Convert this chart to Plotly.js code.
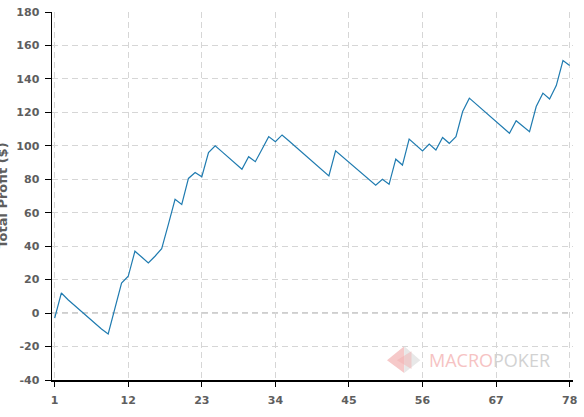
<!DOCTYPE html>
<html>
<head>
<meta charset="utf-8">
<script src="https://cdn.plot.ly/plotly-3.0.1.min.js"></script>
<style>html,body{margin:0;padding:0;background:#fff;}#chart{width:584px;height:417px;}</style>
</head>
<body>
<div id="chart"></div>
<script>
// Session numbers 1..78
const sessions = Array.from({length: 78}, (_, i) => i + 1);
// Cumulative total profit ($)
const totalProfit = [
  -3, 12, 8, 4.5, 0.5, -2.5, -6, -9.5, -12.5, 3,
  18, 22, 37, 33.5, 30, 34, 38.5, 53, 68, 65,
  80.5, 84, 81.5, 96, 100, 96.5, 93, 89.5, 86, 93.5,
  90.5, 98, 105.5, 102.5, 106.5, 103, 99.5, 96, 92.5, 89,
  85.5, 82, 97, 93.5, 90, 86.5, 83.5, 80, 76.5, 80,
  77, 92, 88.5, 104, 100.5, 97, 101, 97.5, 105, 101.5,
  105.5, 120.5, 128.5, 125, 121.5, 118, 114.5, 111, 107.5, 115,
  112, 108.5, 123.5, 131.5, 128, 136, 151, 148
];
const xTickVals = [1, 12, 23, 34, 45, 56, 67, 78];
const yTickVals = [-40, -20, 0, 20, 40, 60, 80, 100, 120, 140, 160, 180];
const yTitle = 'Total Profit ($)';

const tickFont = {family: 'DejaVu Sans, Verdana, sans-serif', size: 11, color: '#5e5e5e', weight: 'bold'};

const trace = {
  x: sessions,
  y: totalProfit,
  type: 'scatter',
  mode: 'lines',
  line: {color: '#1f7bb0', width: 1.2},
  hoverinfo: 'x+y'
};

const layout = {
  width: 584,
  height: 417,
  margin: {l: 52, r: 11, t: 12, b: 37},
  paper_bgcolor: '#fff',
  plot_bgcolor: '#fff',
  showlegend: false,
  xaxis: {
    range: [0.6, 78.5],
    tickmode: 'array',
    tickvals: xTickVals,
    ticktext: xTickVals.map(String),
    showgrid: true,
    gridcolor: '#d6d6d6',
    griddash: '6px,4px',
    gridwidth: 1,
    zeroline: false,
    showline: true,
    linecolor: '#000',
    linewidth: 1.5,
    ticks: 'outside',
    ticklen: 5,
    tickcolor: '#000',
    tickfont: tickFont,
    ticklabelstandoff: 4,
    fixedrange: true
  },
  yaxis: {
    range: [-40, 180],
    tickmode: 'array',
    tickvals: yTickVals,
    ticktext: yTickVals.map(String),
    showgrid: true,
    gridcolor: '#d6d6d6',
    griddash: '6px,4px',
    gridwidth: 1,
    zeroline: false,
    showline: true,
    linecolor: '#000',
    linewidth: 1.5,
    ticks: 'outside',
    ticklen: 6,
    tickcolor: '#000',
    tickfont: tickFont,
    ticklabelstandoff: 3,
    automargin: false,
    fixedrange: true
  },
  shapes: [
    {type: 'line', xref: 'paper', yref: 'y', x0: 0, x1: 1, y0: 0, y1: 0,
     line: {color: '#8a8a8a', width: 1, dash: '6px,4px'}, layer: 'below'},
    // watermark diamond
    {type: 'path', xref: 'paper', yref: 'paper',
     path: 'M 0.643 0.054 L 0.676 0.092 L 0.676 0.019 Z',
     fillcolor: '#f6c9c9', line: {width: 0}, layer: 'below'},
    {type: 'path', xref: 'paper', yref: 'paper',
     path: 'M 0.676 0.092 L 0.707 0.054 L 0.676 0.019 Z',
     fillcolor: '#e8e8e8', line: {width: 0}, layer: 'below'},
    {type: 'path', xref: 'paper', yref: 'paper',
     path: 'M 0.662 0.054 L 0.690 0.078 L 0.690 0.030 Z',
     fillcolor: '#f2b0b0', opacity: 0.5, line: {width: 0}, layer: 'below'}
  ],
  annotations: [
    {xref: 'paper', yref: 'paper', x: -0.0967, y: 0.5, xanchor: 'center', yanchor: 'middle',
     showarrow: false, textangle: -90, text: yTitle,
     font: {family: 'DejaVu Sans, Verdana, sans-serif', size: 13, color: '#5e5e5e', weight: 'bold'}},
    {xref: 'paper', yref: 'paper', x: 0.72, y: 0.054, xanchor: 'left', yanchor: 'middle',
     showarrow: false,
     text: '<span style="color:#f6c3c3">MACRO</span><span style="color:#d2d2d2">POKER</span>',
     font: {family: 'Open Sans, sans-serif', size: 18}}
  ]
};

Plotly.newPlot('chart', [trace], layout, {displayModeBar: false, staticPlot: true});
</script>
</body>
</html>
